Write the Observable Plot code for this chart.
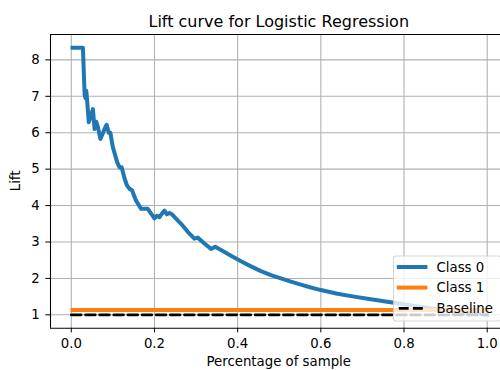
<!DOCTYPE html>
<html>
<head>
<meta charset="utf-8">
<script src="https://cdn.jsdelivr.net/npm/d3@7"></script>
<script src="https://cdn.jsdelivr.net/npm/@observablehq/plot@0.6"></script>
<style>
  html, body { margin: 0; padding: 0; background: white; overflow: hidden; }
  #chart svg { display: block; overflow: hidden; }
</style>
</head>
<body>
<div id="chart"></div>
<script>
// Lift of the Class 0 model by share of sample, ranked by predicted probability
const class0Pct = [0.003, 0.028, 0.032, 0.034, 0.036, 0.038, 0.042, 0.047, 0.052, 0.056,
  0.060, 0.063, 0.070, 0.078, 0.085, 0.090, 0.094, 0.100, 0.110, 0.116,
  0.121, 0.128, 0.134, 0.140, 0.146, 0.155, 0.168, 0.176, 0.184, 0.192,
  0.200, 0.206, 0.212, 0.218, 0.224, 0.230, 0.236, 0.242, 0.264, 0.280,
  0.296, 0.304, 0.320, 0.336, 0.346, 0.360, 0.384, 0.408, 0.432, 0.456,
  0.480, 0.504, 0.528, 0.552, 0.576, 0.600, 0.640, 0.680, 0.720, 0.760,
  0.800, 0.850, 0.900, 0.950, 1.000];
const class0Lift = [8.33, 8.33, 7.05, 6.95, 7.15, 6.90, 6.29, 6.45, 6.65, 6.10,
  6.30, 6.20, 5.83, 6.05, 6.22, 6.00, 6.00, 5.60, 5.20, 5.05,
  5.05, 4.75, 4.55, 4.46, 4.42, 4.15, 3.91, 3.91, 3.91, 3.78,
  3.65, 3.72, 3.68, 3.78, 3.86, 3.76, 3.80, 3.76, 3.50, 3.28,
  3.09, 3.12, 2.96, 2.81, 2.87, 2.78, 2.62, 2.47, 2.33, 2.20,
  2.09, 2.00, 1.91, 1.83, 1.75, 1.68, 1.58, 1.50, 1.43, 1.36,
  1.29, 1.20, 1.12, 1.06, 1.00];

// Class 1 lift stays flat across the sample
const class1Pct = [0.003, 1.0];
const class1Lift = [1.136, 1.136];

// Random-selection baseline
const basePct = [0.0, 1.0];
const baseLift = [1.0, 1.0];

const xTicks = [0.0, 0.2, 0.4, 0.6, 0.8, 1.0];
const yTicks = [1, 2, 3, 4, 5, 6, 7, 8];
const seriesNames = ["Class 0", "Class 1", "Baseline"];
const seriesColors = ["#1f77b4", "#ff7f0e", "#000000"];

const zip = (xs, ys) => xs.map((x, i) => ({x, y: ys[i]}));
const class0 = zip(class0Pct, class0Lift);
const class1 = zip(class1Pct, class1Lift);
const baseline = zip(basePct, baseLift);

const xDomain = [-0.05, 1.05];
const yDomain = [0.633, 8.697];
const grid = {stroke: "#b0b0b0", strokeOpacity: 1, strokeWidth: 1.07};
const frame = {stroke: "black", strokeWidth: 1.07};

const chart = Plot.plot({
  width: 500,
  height: 370,
  marginTop: 34,
  marginLeft: 50,
  marginRight: 0,
  marginBottom: 42.3,
  style: {fontFamily: "DejaVu Sans", fontSize: "13.3px", color: "black", background: "white"},
  x: {domain: xDomain, range: [50, 507.5]},
  y: {domain: yDomain, range: [327.7, 34]},
  marks: [
    Plot.gridX(xTicks, grid),
    Plot.gridY(yTicks, grid),
    Plot.line(class0, {x: "x", y: "y", stroke: seriesColors[0], strokeWidth: 4,
      strokeLinecap: "square", strokeLinejoin: "round"}),
    Plot.line(class1, {x: "x", y: "y", stroke: seriesColors[1], strokeWidth: 4,
      strokeLinecap: "square", strokeLinejoin: "round"}),
    Plot.line(baseline, {x: "x", y: "y", stroke: seriesColors[2], strokeWidth: 2.67,
      strokeDasharray: "9.87 4.27"}),
    Plot.ruleX([xDomain[0]], frame),
    Plot.ruleY([yDomain[0], yDomain[1]], frame),
    Plot.axisX(xTicks, {tickSize: 4.67, tickPadding: 5.3, tickFormat: d3.format(".1f"), label: null}),
    Plot.axisY(yTicks, {tickSize: 4.67, tickPadding: 6, tickFormat: d3.format("d"), label: null})
  ]
});

const svg = d3.select(chart);
const font = "DejaVu Sans";

// Title and axis labels
svg.append("text")
  .attr("x", 278.75).attr("y", 26.5)
  .attr("text-anchor", "middle")
  .attr("font-family", font).attr("font-size", "16px").attr("fill", "black")
  .text("Lift curve for Logistic Regression");
svg.append("text")
  .attr("x", 278.75).attr("y", 365.5)
  .attr("text-anchor", "middle")
  .attr("font-family", font).attr("font-size", "13.3px").attr("fill", "black")
  .text("Percentage of sample");
svg.append("text")
  .attr("transform", "translate(20,180.9) rotate(-90)")
  .attr("text-anchor", "middle")
  .attr("font-family", font).attr("font-size", "13.3px").attr("fill", "black")
  .text("Lift");

// Legend in the lower-right corner of the axes
const lg = svg.append("g");
lg.append("rect")
  .attr("x", 393.5).attr("y", 256).attr("width", 107.3).attr("height", 65)
  .attr("rx", 2.7).attr("ry", 2.7)
  .attr("fill", "white").attr("fill-opacity", 0.8)
  .attr("stroke", "#cccccc").attr("stroke-opacity", 0.8).attr("stroke-width", 1.07);
const rowY = [267, 287.6, 308.3];
seriesNames.forEach((name, i) => {
  const ln = lg.append("line")
    .attr("x1", 398.8).attr("x2", 425.4)
    .attr("y1", rowY[i]).attr("y2", rowY[i])
    .attr("stroke", seriesColors[i]);
  if (i < 2) {
    ln.attr("stroke-width", 4).attr("stroke-linecap", "square");
  } else {
    ln.attr("stroke-width", 2.67).attr("stroke-dasharray", "9.87 4.27");
  }
  lg.append("text")
    .attr("x", 436.5).attr("y", rowY[i] + 4.8)
    .attr("text-anchor", "start")
    .attr("font-family", font).attr("font-size", "13.3px").attr("fill", "black")
    .text(name);
});

document.getElementById("chart").appendChild(chart);
</script>
</body>
</html>
